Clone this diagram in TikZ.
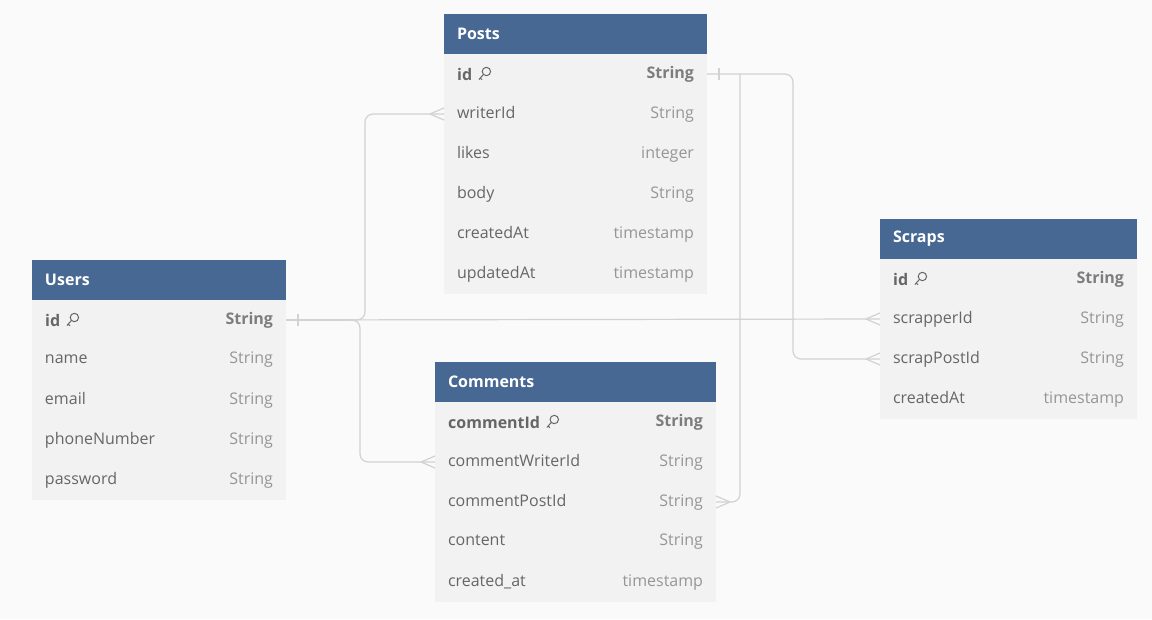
\documentclass[tikz,border=0pt]{standalone}
\usepackage{fontspec}
\setmainfont{Open Sans}
\usetikzlibrary{positioning}
\definecolor{erdhead}{RGB}{71,104,146}
\definecolor{erdrow}{RGB}{242,242,242}
\definecolor{erdback}{RGB}{250,250,250}
\definecolor{erdtext}{RGB}{102,102,102}
\definecolor{erdtype}{RGB}{150,150,150}
\definecolor{erdkeytype}{RGB}{125,125,125}
\definecolor{erdline}{RGB}{210,210,210}

\begin{document}
\begin{tikzpicture}[x=1pt, y=-1pt,
    head/.style={fill=erdhead, text=white, font=\bfseries\fontsize{16}{18}\selectfont,
      minimum height=40, inner xsep=13, inner ysep=0, outer sep=0, align=left},
    row/.style={fill=erdrow, text=erdtext, font=\fontsize{16}{18}\selectfont,
      minimum height=40, inner xsep=13, inner ysep=0, outer sep=0, align=left},
    keyrow/.style={row, font=\bfseries\fontsize{16}{18}\selectfont},
    keyname/.style={anchor=west, xshift=13, inner sep=0, text=erdtext, font=\bfseries\fontsize{16}{18}\selectfont},
    link/.style={draw=erdline, line width=1.2, rounded corners=8},
    crowfoot/.pic={\draw[erdline, line width=1.2] (-14,0) -- (0,-6) (-14,0) -- (0,6);},
    onebar/.pic={\draw[erdline, line width=1.2] (12,-6) -- (12,6);},
    keyicon/.pic={\draw[erdtext, line width=1] (14,-2.5) circle (4.2) (11,0.5) -- (6.5,5.5) (7.8,4) -- (9.6,5.8);}]

    % Background
    \fill[erdback] (0,0) rectangle (1152,619);

    % Posts table
    \begin{scope}[every node/.append style={text width=237}]
    \node[head, anchor=north west] (posts-head) at (444,14) {Posts};
    \node[keyrow, below=0pt of posts-head] (posts-id) {\hfill\textcolor{erdkeytype}{String}};
    \node[row, below=0pt of posts-id] (posts-writerId) {writerId\hfill\textcolor{erdtype}{String}};
    \node[row, below=0pt of posts-writerId] (posts-likes) {likes\hfill\textcolor{erdtype}{integer}};
    \node[row, below=0pt of posts-likes] (posts-body) {body\hfill\textcolor{erdtype}{String}};
    \node[row, below=0pt of posts-body] (posts-createdAt) {createdAt\hfill\textcolor{erdtype}{timestamp}};
    \node[row, below=0pt of posts-createdAt] (posts-updatedAt) {updatedAt\hfill\textcolor{erdtype}{timestamp}};
    \end{scope}

    % Users table
    \begin{scope}[every node/.append style={text width=228}]
    \node[head, anchor=north west] (users-head) at (32,260) {Users};
    \node[keyrow, below=0pt of users-head] (users-id) {\hfill\textcolor{erdkeytype}{String}};
    \node[row, below=0pt of users-id] (users-name) {name\hfill\textcolor{erdtype}{String}};
    \node[row, below=0pt of users-name] (users-email) {email\hfill\textcolor{erdtype}{String}};
    \node[row, below=0pt of users-email] (users-phoneNumber) {phoneNumber\hfill\textcolor{erdtype}{String}};
    \node[row, below=0pt of users-phoneNumber] (users-password) {password\hfill\textcolor{erdtype}{String}};
    \end{scope}

    % Comments table
    \begin{scope}[every node/.append style={text width=255}]
    \node[head, anchor=north west] (comments-head) at (435,362) {Comments};
    \node[keyrow, below=0pt of comments-head] (comments-commentId) {\hfill\textcolor{erdkeytype}{String}};
    \node[row, below=0pt of comments-commentId] (comments-commentWriterId) {commentWriterId\hfill\textcolor{erdtype}{String}};
    \node[row, below=0pt of comments-commentWriterId] (comments-commentPostId) {commentPostId\hfill\textcolor{erdtype}{String}};
    \node[row, below=0pt of comments-commentPostId] (comments-content) {content\hfill\textcolor{erdtype}{String}};
    \node[row, below=0pt of comments-content] (comments-created_at) {created\_at\hfill\textcolor{erdtype}{timestamp}};
    \end{scope}

    % Scraps table
    \begin{scope}[every node/.append style={text width=231}]
    \node[head, anchor=north west] (scraps-head) at (880,219) {Scraps};
    \node[keyrow, below=0pt of scraps-head] (scraps-id) {\hfill\textcolor{erdkeytype}{String}};
    \node[row, below=0pt of scraps-id] (scraps-scrapperId) {scrapperId\hfill\textcolor{erdtype}{String}};
    \node[row, below=0pt of scraps-scrapperId] (scraps-scrapPostId) {scrapPostId\hfill\textcolor{erdtype}{String}};
    \node[row, below=0pt of scraps-scrapPostId] (scraps-createdAt) {createdAt\hfill\textcolor{erdtype}{timestamp}};
    \end{scope}

    % Primary key names with key icon
    \node[keyname] (posts-idname) at (posts-id.west) {id};
    \node[keyname] (users-idname) at (users-id.west) {id};
    \node[keyname] (comments-commentIdname) at (comments-commentId.west) {commentId};
    \node[keyname] (scraps-idname) at (scraps-id.west) {id};
    \pic at (posts-idname.east) {keyicon};
    \pic at (users-idname.east) {keyicon};
    \pic at (comments-commentIdname.east) {keyicon};
    \pic at (scraps-idname.east) {keyicon};

    % Relations from Posts.id
    \coordinate (postsfork) at ([xshift=33]posts-id.east);
    \draw[link] (posts-id.east) -- ++(86,0) |- (scraps-scrapPostId.west);
    \draw[link] (postsfork) |- (comments-commentPostId.east);
    \pic at (posts-id.east) {onebar};
    \pic at (scraps-scrapPostId.west) {crowfoot};
    \pic[rotate=180] at (comments-commentPostId.east) {crowfoot};

    % Relations from Users.id
    \coordinate (usersforkup) at ([xshift=79]users-id.east);
    \coordinate (usersforkdown) at ([xshift=74]users-id.east);
    \draw[link] (users-id.east) -- (scraps-scrapperId.west);
    \draw[link] (users-id.east) -- (usersforkup) |- (posts-writerId.west);
    \draw[link] (users-id.east) -- (usersforkdown) |- (comments-commentWriterId.west);
    \pic at (users-id.east) {onebar};
    \pic at (scraps-scrapperId.west) {crowfoot};
    \pic at (posts-writerId.west) {crowfoot};
    \pic at (comments-commentWriterId.west) {crowfoot};
\end{tikzpicture}
\end{document}
